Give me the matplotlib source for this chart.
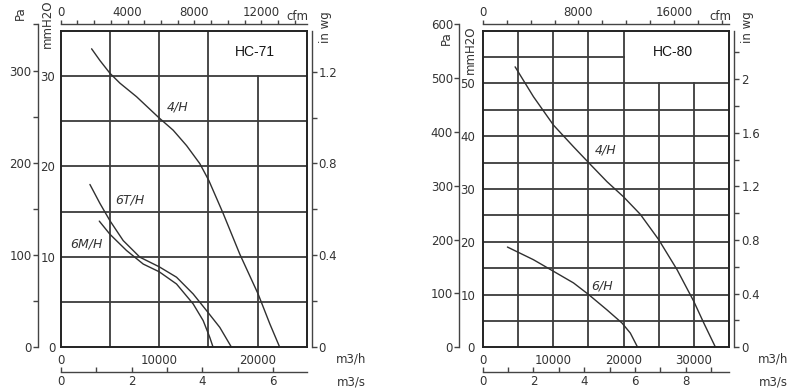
import numpy as np
import matplotlib
matplotlib.use('Agg')
import matplotlib.pyplot as plt
from matplotlib.ticker import FixedLocator, NullFormatter

# ---------------- data (flow in m3/h, pressure in mmH2O) ----------------
hc71_4h_q = [3140, 3990, 5000, 6020, 7710, 10010, 11430, 12790, 14140, 15050, 16510, 18200, 20060, 21250, 22260]
hc71_4h_p = [33.0, 31.7, 30.3, 29.2, 27.7, 25.35, 24.0, 22.3, 20.3, 18.45, 14.8, 10.3, 5.9, 2.6, 0.0]

hc71_6t_q = [2970, 3990, 5000, 6350, 8050, 10010, 11770, 13460, 14820, 16170, 17360]
hc71_6t_p = [18.0, 15.9, 14.0, 11.8, 9.96, 8.9, 7.75, 5.9, 4.06, 2.2, 0.0]

hc71_6m_q = [3920, 5000, 6690, 8390, 10010, 11770, 13460, 14480, 15150, 15490]
hc71_6m_p = [13.95, 12.5, 10.7, 9.2, 8.35, 7.0, 4.8, 2.95, 1.1, 0.0]

hc80_4h_q = [4600, 7200, 10050, 12890, 15030, 17630, 20000, 22370, 24980, 27590, 29960, 31380, 33040]
hc80_4h_p = [53.15, 47.5, 42.1, 38.0, 35.0, 31.4, 28.5, 25.2, 20.4, 14.7, 8.7, 4.6, 0.0]

hc80_6h_q = [3510, 7200, 10050, 12890, 15030, 17630, 19770, 20950, 21990]
hc80_6h_p = [19.0, 16.6, 14.4, 12.2, 10.0, 7.1, 4.6, 2.7, 0.0]

curve_labels_71 = ["4/H", "6T/H", "6M/H"]
curve_labels_80 = ["4/H", "6/H"]
titles = ["HC-71", "HC-80"]

# tick values
hc71_m3h_ticks = [0, 10000, 20000]
hc71_mm_ticks = [0, 10, 20, 30]
hc71_pa_major = [0, 100, 200, 300]
hc71_pa_minor = [50, 150, 250, 350]
hc71_in_major = [0, 0.4, 0.8, 1.2]
hc71_in_minor = [0.2, 0.6, 1.0]
hc71_cfm_major = [0, 4000, 8000, 12000]
hc71_cfm_minor = list(range(1000, 15000, 1000))
hc71_m3s_major = [0, 2, 4, 6]
hc71_m3s_minor = [1, 3, 5]

hc80_m3h_ticks = [0, 10000, 20000, 30000]
hc80_mm_ticks = [0, 10, 20, 30, 40, 50]
hc80_pa_major = [0, 100, 200, 300, 400, 500, 600]
hc80_pa_minor = []
hc80_in_major = [0, 0.4, 0.8, 1.2, 1.6, 2.0]
hc80_in_minor = [0.2, 0.6, 1.0, 1.4, 1.8, 2.2]
hc80_cfm_major = [0, 8000, 16000]
hc80_cfm_minor = list(range(2000, 21000, 2000))
hc80_m3s_major = [0, 2, 4, 6, 8]
hc80_m3s_minor = [1, 3, 5, 7, 9]

# ---------------- conversions ----------------
PA_PER_MM = 9.80665
MM_PER_IN = 25.4
M3H_PER_CFM = 1.699011
M3H_PER_M3S = 3600.0

W, H = 800, 391
plt.rcParams['font.family'] = ['DejaVu Sans']
fig = plt.figure(figsize=(W / 100, H / 100), dpi=100)

TXT = '#333333'
GRID = '#3c3c3c'
CURVE = '#303030'
FS = 8.5


def fx(x):
    return x / W


def fy(y):
    return 1 - y / H


def make_panel(box, xmax, ymax, vlines_full, vlines_part, hlines_full, hlines_part,
               curves, labels, label_pos, title, title_pos,
               m3h_ticks, mm_ticks, mm_pad, pa_x, pa_max, pa_major, pa_minor,
               in_major, in_minor, cfm_major, cfm_minor, m3s_major, m3s_minor,
               txt_pos):
    x0, y0, x1, y1 = box
    ax = fig.add_axes([fx(x0), fy(y1), (x1 - x0) / W, (y1 - y0) / H])
    ax.set_xlim(0, xmax)
    ax.set_ylim(0, ymax)
    for s in ax.spines.values():
        s.set_linewidth(1.4)
        s.set_color('#222222')
    # grid
    for v in vlines_full:
        ax.plot([v, v], [0, ymax], color=GRID, lw=1.3)
    for v, top in vlines_part:
        ax.plot([v, v], [0, top], color=GRID, lw=1.3)
    for h in hlines_full:
        ax.plot([0, xmax], [h, h], color=GRID, lw=1.3)
    for h, right in hlines_part:
        ax.plot([0, right], [h, h], color=GRID, lw=1.3)
    # curves
    for (q, p) in curves:
        ax.plot(q, p, color=CURVE, lw=1.0, solid_capstyle='round')
    for lab, (lx, ly) in zip(labels, label_pos):
        ax.text(lx, ly, lab, fontsize=9, style='italic', color=TXT,
                ha='center', va='center')
    ax.text(title_pos[0], title_pos[1], title, fontsize=10, color='#151515',
            family='Liberation Sans', ha='center', va='center')

    # main axis labels (m3/h bottom, mmH2O left)
    ax.set_xticks(m3h_ticks)
    ax.set_xticklabels([str(t) for t in m3h_ticks])
    ax.set_yticks(mm_ticks)
    ax.set_yticklabels([str(t) for t in mm_ticks])
    ax.tick_params(axis='x', length=0, pad=4.5, labelsize=FS, labelcolor=TXT)
    ax.tick_params(axis='y', length=0, pad=mm_pad, labelsize=FS, labelcolor=TXT)

    # Pa axis (separate spine on the far left)
    px_per_mm = (y1 - y0) / ymax
    pa_h = pa_max / PA_PER_MM * px_per_mm
    pa_ax = fig.add_axes([fx(pa_x), fy(y1), 0.0001, pa_h / H])
    pa_ax.set_ylim(0, pa_max)
    pa_ax.patch.set_visible(False)
    for k in ['right', 'top', 'bottom']:
        pa_ax.spines[k].set_visible(False)
    pa_ax.spines['left'].set_color('#444444')
    pa_ax.spines['left'].set_linewidth(1.0)
    pa_ax.set_xticks([])
    pa_ax.yaxis.set_major_locator(FixedLocator(pa_major))
    pa_ax.yaxis.set_minor_locator(FixedLocator(pa_minor))
    pa_ax.tick_params(axis='y', which='both', direction='out', length=3.5, width=1.0,
                      color='#444444', pad=1, labelsize=FS, labelcolor=TXT)

    # in wg axis (right)
    sec_in = ax.secondary_yaxis(1 + 5.0 / (x1 - x0),
                                functions=(lambda mm: mm / MM_PER_IN, lambda i: i * MM_PER_IN))
    sec_in.yaxis.set_major_locator(FixedLocator(in_major))
    sec_in.yaxis.set_minor_locator(FixedLocator(in_minor))
    sec_in.set_yticklabels([('%g' % v) for v in in_major])
    sec_in.tick_params(axis='y', which='both', direction='out', length=3.5, width=1.0,
                       color='#444444', pad=1.5, labelsize=FS, labelcolor=TXT)
    for s in sec_in.spines.values():
        s.set_color('#444444')
        s.set_linewidth(1.0)

    # cfm axis (top)
    sec_cfm = ax.secondary_xaxis(1 + 6.5 / (y1 - y0),
                                 functions=(lambda q: q / M3H_PER_CFM, lambda c: c * M3H_PER_CFM))
    sec_cfm.xaxis.set_major_locator(FixedLocator(cfm_major))
    sec_cfm.xaxis.set_minor_locator(FixedLocator(cfm_minor))
    sec_cfm.set_xticklabels([str(v) for v in cfm_major])
    sec_cfm.tick_params(axis='x', which='both', direction='out', length=3, width=1.0,
                        color='#444444', pad=1, labelsize=FS, labelcolor=TXT)
    for s in sec_cfm.spines.values():
        s.set_color('#444444')
        s.set_linewidth(1.0)

    # m3/s axis (bottom)
    sec_s = ax.secondary_xaxis(-(372.0 - y1) / (y1 - y0),
                               functions=(lambda q: q / M3H_PER_M3S, lambda s: s * M3H_PER_M3S))
    sec_s.xaxis.set_major_locator(FixedLocator(m3s_major))
    sec_s.xaxis.set_minor_locator(FixedLocator(m3s_minor))
    sec_s.set_xticklabels([str(v) for v in m3s_major])
    sec_s.tick_params(axis='x', which='both', direction='in', length=3.5, width=1.0,
                      color='#444444', pad=2.5, labelsize=FS, labelcolor=TXT)
    for s in sec_s.spines.values():
        s.set_color('#444444')
        s.set_linewidth(1.0)

    # unit labels
    (pa_lx, pa_ly), (mm_lx, mm_ly), (in_lx, in_ly), (cfm_lx, cfm_ly), (m3h_lx, m3h_ly), (m3s_lx, m3s_ly) = txt_pos
    fig.text(fx(pa_lx), fy(pa_ly), 'Pa', rotation=90, fontsize=FS, color=TXT, ha='center', va='center')
    fig.text(fx(mm_lx), fy(mm_ly), 'mmH2O', rotation=90, fontsize=FS, color=TXT, ha='center', va='center')
    fig.text(fx(in_lx), fy(in_ly), 'in wg', rotation=90, fontsize=FS, color=TXT, ha='center', va='center')
    fig.text(fx(cfm_lx), fy(cfm_ly), 'cfm', fontsize=FS, color=TXT, ha='center', va='center')
    fig.text(fx(m3h_lx), fy(m3h_ly), 'm3/h', fontsize=FS, color=TXT, ha='center', va='center')
    fig.text(fx(m3s_lx), fy(m3s_ly), 'm3/s', fontsize=FS, color=TXT, ha='center', va='center')
    return ax


make_panel(
    box=(60.7, 30.7, 306.7, 347.3), xmax=25000, ymax=35,
    vlines_full=[5000, 10000, 15000], vlines_part=[(20000, 30)],
    hlines_full=[5, 10, 15, 20, 25, 30], hlines_part=[],
    curves=[(hc71_4h_q, hc71_4h_p), (hc71_6t_q, hc71_6t_p), (hc71_6m_q, hc71_6m_p)],
    labels=curve_labels_71,
    label_pos=[(11840, 26.6), (7030, 16.3), (2570, 11.4)],
    title=titles[0], title_pos=(19780, 32.7),
    m3h_ticks=hc71_m3h_ticks, mm_ticks=hc71_mm_ticks, mm_pad=4,
    pa_x=37.7, pa_max=350, pa_major=hc71_pa_major, pa_minor=hc71_pa_minor,
    in_major=hc71_in_major, in_minor=hc71_in_minor,
    cfm_major=hc71_cfm_major, cfm_minor=hc71_cfm_minor,
    m3s_major=hc71_m3s_major, m3s_minor=hc71_m3s_minor,
    txt_pos=[(20, 13), (47.5, 24), (326, 27), (297, 16), (351, 359.5), (351, 382)],
)

make_panel(
    box=(482.7, 30.7, 729.3, 347.3), xmax=35000, ymax=60,
    vlines_full=[5000, 10000, 15000, 20000], vlines_part=[(25000, 50), (30000, 50)],
    hlines_full=[5, 10, 15, 20, 25, 30, 35, 40, 45, 50], hlines_part=[(55, 20000)],
    curves=[(hc80_4h_q, hc80_4h_p), (hc80_6h_q, hc80_6h_p)],
    labels=curve_labels_80,
    label_pos=[(17480, 37.4), (17000, 11.6)],
    title=titles[1], title_pos=(27010, 56.0),
    m3h_ticks=hc80_m3h_ticks, mm_ticks=hc80_mm_ticks, mm_pad=5.5,
    pa_x=459.3, pa_max=600, pa_major=hc80_pa_major, pa_minor=hc80_pa_minor,
    in_major=hc80_in_major, in_minor=hc80_in_minor,
    cfm_major=hc80_cfm_major, cfm_minor=hc80_cfm_minor,
    m3s_major=hc80_m3s_major, m3s_minor=hc80_m3s_minor,
    txt_pos=[(446.5, 38), (470, 50), (748, 27), (720, 16), (773, 359.5), (773, 382)],
)

fig.savefig('out.png', dpi=100)
